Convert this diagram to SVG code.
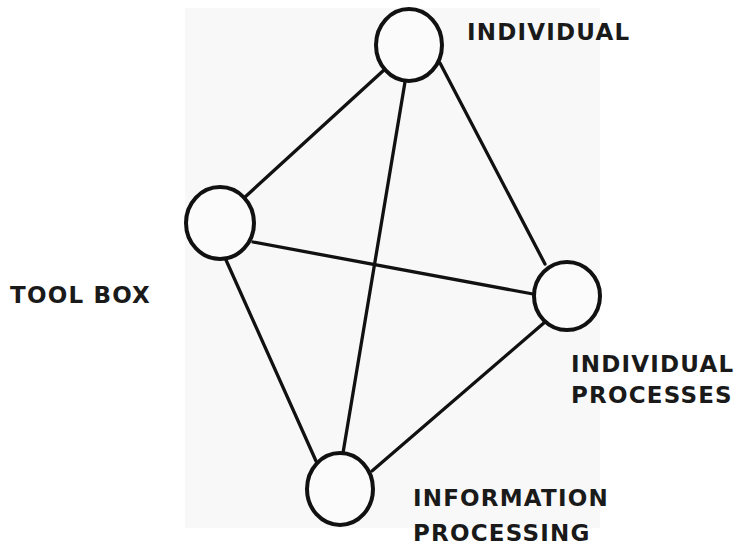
<svg xmlns="http://www.w3.org/2000/svg" width="745" height="549" viewBox="0 0 745 549">
<style>
.bg{fill:#f8f8f8}
.node{fill:#fbfbfb;stroke:#111;stroke-width:4}
.edge{stroke:#111;stroke-width:3.3;fill:none;stroke-linecap:round}
.lbl{font-family:"DejaVu Sans",Verdana,sans-serif;font-weight:bold;font-size:23px;letter-spacing:1.2px;fill:#1a1a1a}
</style>
<rect class="bg" x="185" y="8" width="415" height="520"/>
<g id="connectors">
<line class="edge" x1="384" y1="70" x2="244" y2="198"/>
<line class="edge" x1="440" y1="63" x2="545" y2="264"/>
<line class="edge" x1="405" y1="82" x2="343" y2="453"/>
<line class="edge" x1="253" y1="242" x2="533" y2="294"/>
<line class="edge" x1="226" y1="260" x2="316" y2="461"/>
<line class="edge" x1="545" y1="322" x2="372" y2="471"/>
</g>
<g id="individual">
<ellipse class="node" cx="409" cy="45" rx="33" ry="36"/>
<text class="lbl" x="467" y="40">INDIVIDUAL</text>
</g>
<g id="toolbox">
<ellipse class="node" cx="220" cy="223" rx="34" ry="36"/>
<text class="lbl" x="10" y="303">TOOL BOX</text>
</g>
<g id="individual-processes">
<ellipse class="node" cx="567" cy="296" rx="33" ry="34"/>
<text class="lbl" x="571" y="372">INDIVIDUAL</text>
<text class="lbl" x="571" y="403">PROCESSES</text>
</g>
<g id="information-processing">
<ellipse class="node" cx="340" cy="489" rx="33" ry="36"/>
<text class="lbl" x="413" y="506">INFORMATION</text>
<text class="lbl" x="413" y="541">PROCESSING</text>
</g>
</svg>
